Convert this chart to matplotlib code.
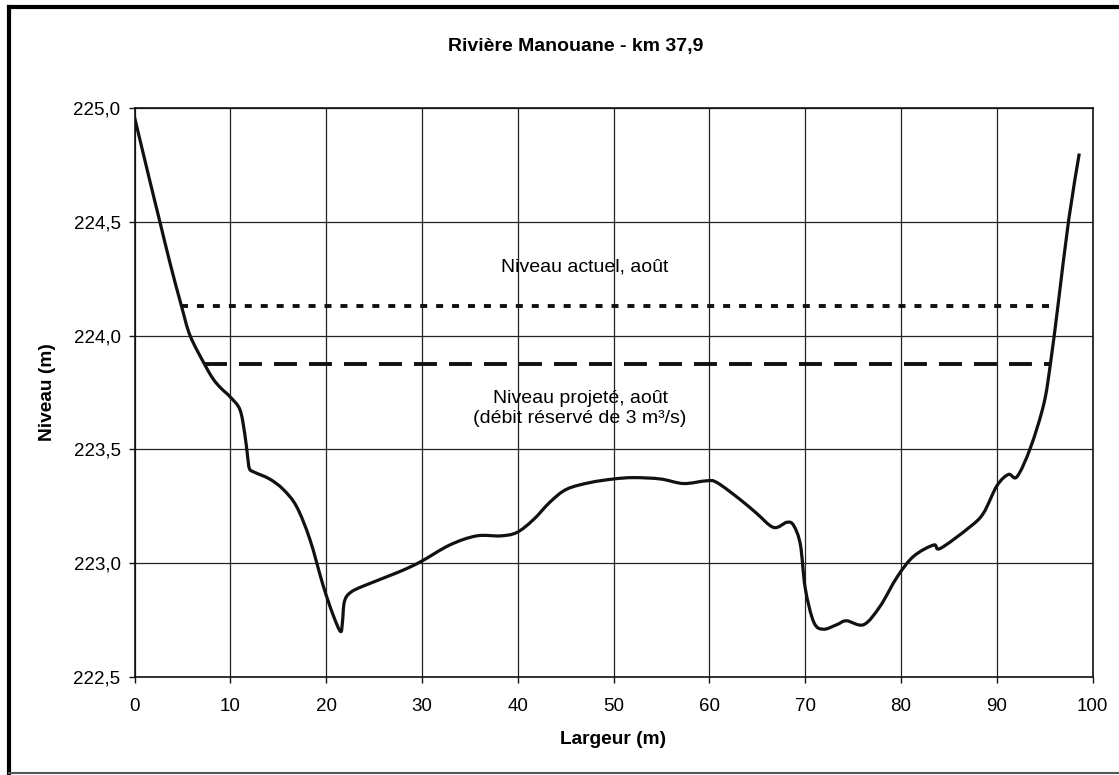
import matplotlib
matplotlib.use("Agg")
import matplotlib.pyplot as plt
from matplotlib.lines import Line2D
from matplotlib.path import Path
from matplotlib.patches import PathPatch
from matplotlib.ticker import FuncFormatter, MultipleLocator

plt.rcParams['font.family'] = ['Liberation Sans', 'DejaVu Sans']

# Cross-section profile (Largeur m, Niveau m)
largeur = [0, 1.6, 2.65, 3.7, 4.9, 5.8, 7.3, 8.2, 9.0, 10.0, 11.0, 11.5, 11.8, 12.0, 12.5,
           14.1, 15.5, 16.9, 18.3, 19.7, 20.75, 21.5, 21.7, 21.9, 22.5, 23.9, 27.5,
           29.8, 32.9, 35.7, 38.2, 39.9, 41.6, 43.4, 45.1, 47.5, 50.0, 52.1, 54.9,
           57.3, 59.7, 60.8, 63.2, 64.9, 66.7, 68.1, 68.8, 69.5, 70.0, 70.9, 71.9,
           73.3, 74.3, 76.1, 77.8, 79.6, 81.3, 83.4, 84.1, 87.2, 88.6, 90.0, 91.2,
           92.1, 93.5, 94.9, 95.6, 96.4, 97.5, 98.6]
niveau = [224.96, 224.68, 224.50, 224.32, 224.13, 224.00, 223.875, 223.81, 223.77, 223.73,
          223.675, 223.57, 223.47, 223.415, 223.40, 223.37, 223.325, 223.25, 223.105,
          222.90, 222.77, 222.70, 222.74, 222.83, 222.87, 222.90, 222.96, 223.005,
          223.08, 223.12, 223.12, 223.135, 223.19, 223.27, 223.325, 223.354, 223.37,
          223.376, 223.37, 223.35, 223.362, 223.354, 223.28, 223.22, 223.157, 223.18,
          223.165, 223.08, 222.89, 222.74, 222.71, 222.73, 222.747, 222.73, 222.81,
          222.94, 223.03, 223.08, 223.065, 223.16, 223.22, 223.34, 223.39, 223.38,
          223.507, 223.70, 223.88, 224.14, 224.51, 224.80]

# Water levels
actuel_x = [4.9, 96.1]
actuel_y = [224.13, 224.13]
projete_x = [7.3, 95.5]
projete_y = [223.875, 223.875]

title = "Rivière Manouane - km 37,9"
xlabel = "Largeur (m)"
ylabel = "Niveau (m)"
label_actuel = "Niveau actuel, août"
label_projete = "Niveau projeté, août\n(débit réservé de 3 m³/s)"


def smooth_path(xs, ys):
    """Excel-like smoothed line: cubic Bezier segments through the points."""
    pts = list(zip(xs, ys))
    n = len(pts)
    verts = [pts[0]]
    codes = [Path.MOVETO]
    for i in range(n - 1):
        p0 = pts[i - 1] if i > 0 else pts[i]
        p1 = pts[i]
        p2 = pts[i + 1]
        p3 = pts[i + 2] if i + 2 < n else pts[i + 1]
        c1 = (p1[0] + (p2[0] - p0[0]) / 6, p1[1] + (p2[1] - p0[1]) / 6)
        c2 = (p2[0] - (p3[0] - p1[0]) / 6, p2[1] - (p3[1] - p1[1]) / 6)
        verts += [c1, c2, p2]
        codes += [Path.CURVE4] * 3
    return Path(verts, codes)


W, H = 1119, 775
fig = plt.figure(figsize=(W / 100, H / 100), dpi=100)
ax = fig.add_axes([134.5 / W, 1 - 677 / H, (1092.7 - 134.5) / W, (677 - 108) / H])

ax.add_patch(PathPatch(smooth_path(largeur, niveau), facecolor='none',
                       edgecolor='#111111', lw=2.3, joinstyle='round', zorder=4))
ax.plot(actuel_x, actuel_y, color='#111111', lw=2.8, dashes=(1.8, 2.3),
        dash_capstyle='butt', zorder=3)
ax.plot(projete_x, projete_y, color='#111111', lw=2.8, dashes=(5.9, 3.1),
        dash_capstyle='butt', zorder=3)

ax.set_xlim(0, 100)
ax.set_ylim(222.5, 225.0)
ax.xaxis.set_major_locator(MultipleLocator(10))
ax.yaxis.set_major_locator(MultipleLocator(0.5))
ax.yaxis.set_major_formatter(FuncFormatter(lambda v, p: f"{v:.1f}".replace('.', ',')))
ax.grid(True, color='#222222', lw=0.9)
ax.set_axisbelow(True)
for s in ax.spines.values():
    s.set_color('#111111')
    s.set_linewidth(1.2)
ax.tick_params(axis='x', direction='out', length=4, width=1, color='#111111',
               labelsize=13.5, pad=11)
ax.tick_params(axis='y', direction='out', length=4, width=1, color='#111111',
               labelsize=13.5, pad=6)

ax.text(47.0, 224.30, label_actuel, ha='center', va='center', fontsize=14)
ax.text(46.5, 223.68, label_projete, ha='center', va='center', fontsize=14,
        linespacing=1.2)

fig.text(576 / W, 1 - 46 / H, title, ha='center', va='center', fontsize=14,
         fontweight='bold')
fig.text(613 / W, 1 - 740 / H, xlabel, ha='center', va='center', fontsize=13.8,
         fontweight='bold')
fig.text(47 / W, 1 - 392 / H, ylabel, ha='center', va='center', fontsize=13.8,
         fontweight='bold', rotation=90)

# outer chart frame
fig.add_artist(Line2D([9 / W, 9 / W], [1 - 773 / H, 1 - 7 / H], transform=fig.transFigure,
                      color='black', lw=3))
fig.add_artist(Line2D([9 / W, 1.0], [1 - 7 / H, 1 - 7 / H], transform=fig.transFigure,
                      color='black', lw=3))
fig.add_artist(Line2D([9 / W, 1.0], [1 - 773 / H, 1 - 773 / H], transform=fig.transFigure,
                      color='#555555', lw=1.5))

fig.savefig("out.png", dpi=100)
